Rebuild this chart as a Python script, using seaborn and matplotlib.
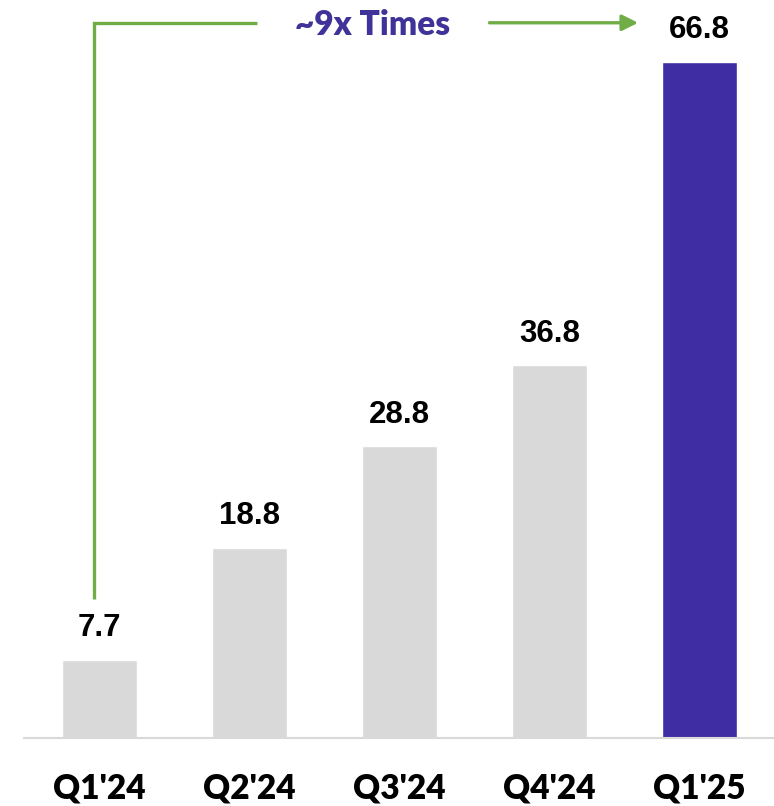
import matplotlib
matplotlib.use("Agg")
import matplotlib.pyplot as plt
import seaborn as sns
import pandas as pd

quarters = ["Q1'24", "Q2'24", "Q3'24", "Q4'24", "Q1'25"]
values = [7.7, 18.8, 28.8, 36.8, 66.8]
bar_colors = ["#D9D9D9", "#D9D9D9", "#D9D9D9", "#D9D9D9", "#3F2DA3"]
growth_label = "~9x Times"

sns.set_theme(style="white")
plt.rcParams["font.family"] = ["Liberation Sans", "DejaVu Sans"]

df = pd.DataFrame({"quarter": quarters, "value": values})

fig = plt.figure(figsize=(7.74, 8.06), dpi=100)
ax = fig.add_axes([0.031, 0.0844, 0.970, 0.9156])

sns.barplot(data=df, x="quarter", y="value", hue="quarter",
            palette=bar_colors, width=0.5, legend=False, ax=ax,
            saturation=1)

for cont in ax.containers:
    ax.bar_label(cont, fmt="%.1f", padding=12, fontsize=22.5,
                 fontweight="bold", color="black")

ax.set_xlim(-0.5, 4.5)
ax.set_ylim(0, 72.9)
ax.set_xlabel("")
ax.set_ylabel("")
ax.set_yticks([])
ax.tick_params(axis="x", length=0, pad=25)
for lbl in ax.get_xticklabels():
    lbl.set_fontfamily(["Lato", "DejaVu Sans"])
    lbl.set_fontweight("heavy")
    lbl.set_fontsize(24)
    lbl.set_color("black")

for side in ["top", "right", "left"]:
    ax.spines[side].set_visible(False)
ax.spines["bottom"].set_color("#D9D9D9")
ax.spines["bottom"].set_linewidth(1.5)

# Growth bracket from the first quarter to the latest one
green = "#70AD47"
y_top = 70.65
x_left = -0.033
ax.plot([x_left, x_left, 1.05], [values[0] + 6.0, y_top, y_top],
        color=green, lw=2.4, solid_capstyle="butt", solid_joinstyle="miter",
        clip_on=False)
ax.annotate("", xy=(3.59, y_top), xytext=(2.60, y_top),
            arrowprops=dict(arrowstyle="-|>,head_length=0.8,head_width=0.4",
                            color=green, lw=2.4, shrinkA=0, shrinkB=0),
            annotation_clip=False)
ax.text(1.82, y_top - 0.25, growth_label, ha="center", va="center",
        fontsize=24, fontweight="heavy", color="#3F3399",
        family=["Lato", "DejaVu Sans"])

fig.savefig("out.png", dpi=100)
